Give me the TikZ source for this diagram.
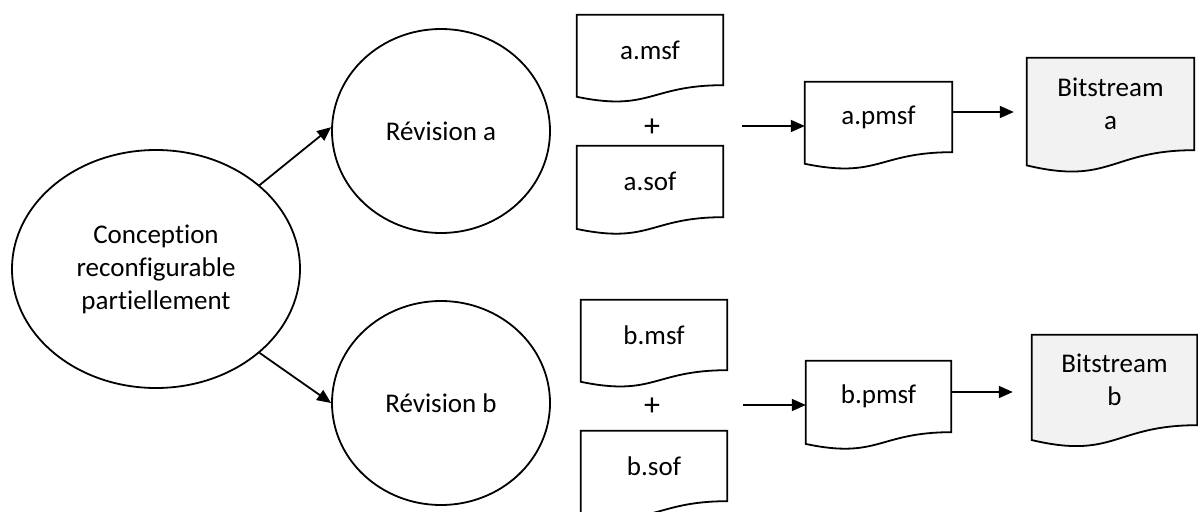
\documentclass[tikz,border=0pt]{standalone}
\usepackage{fontspec}
\setmainfont{Carlito}[Ligatures=NoCommon]
\usetikzlibrary{shapes.geometric,arrows.meta,calc,backgrounds}
\definecolor{bsfill}{HTML}{F2F2F2}
\tikzset{
  lw/.style={line width=1.8pt, draw=black},
  arr/.style={line width=1.8pt, -{Triangle[length=14pt,width=12pt]}},
  txt/.style={font=\fontsize{27}{33}\selectfont, align=center},
  oval/.style={ellipse, lw, txt, inner sep=0pt},
  docbox/.style={rectangle, draw=none, txt, inner sep=0pt},
}
\newcommand\docoutline[2]{%
  \path[lw, fill=#2] let \p1=(#1.north west), \p2=(#1.south east) in
    (\x1,\y1) -- (\x2,\y1) -- (\x2,\y2)
    .. controls ({(\x1+\x2)/2},\y2) and ({(\x1+\x2)/2},{\y1+1.381*(\y2-\y1)}) ..
    (\x1,{\y1+1.1646*(\y2-\y1)}) -- cycle;
}
\begin{document}
\begin{tikzpicture}[x=1pt,y=-1pt]
\useasboundingbox (0,0) rectangle (1198,511);
\node[oval, minimum width=288pt, minimum height=238pt] (conc) at (156,269) {Conception\\reconfigurable\\partiellement};
\node[oval, minimum width=218pt, minimum height=204pt] (reva) at (441,131) {Révision a};
\node[oval, minimum width=218pt, minimum height=204pt] (revb) at (441,403) {Révision b};

\node[docbox, minimum width=146pt, minimum height=70pt] (amsf) at (650,50) {a.msf};
\node[docbox, minimum width=146pt, minimum height=71pt] (asof) at (650,181.5) {a.sof};
\node[txt, font=\fontsize{32}{33}\selectfont] (plusa) at (652,128) {+};
\node[docbox, minimum width=146pt, minimum height=70pt] (bmsf) at (654,335) {b.msf};
\node[docbox, minimum width=146pt, minimum height=70pt] (bsof) at (654,466) {b.sof};
\node[txt, font=\fontsize{32}{33}\selectfont] (plusb) at (652,407) {+};

\node[docbox, minimum width=147pt, minimum height=70pt] (apmsf) at (878.5,117) {a.pmsf};
\node[docbox, minimum width=145pt, minimum height=71pt] (bpmsf) at (878.5,396.5) {b.pmsf};
\node[docbox, minimum width=167pt, minimum height=92pt] (bsa) at (1110.5,104) {Bitstream\\a};
\node[docbox, minimum width=165pt, minimum height=90pt] (bsb) at (1114.5,380) {Bitstream\\b};

\begin{scope}[on background layer]
\docoutline{amsf}{white}
\docoutline{asof}{white}
\docoutline{bmsf}{white}
\docoutline{bsof}{white}
\docoutline{apmsf}{white}
\docoutline{bpmsf}{white}
\docoutline{bsa}{bsfill}
\docoutline{bsb}{bsfill}
\end{scope}

\draw[arr] (conc.39.5) -- (reva.178);
\draw[arr] (conc.-39.8) -- (revb.180);
\coordinate (pa) at (742,126);
\draw[arr] (pa) -- (pa -| apmsf.west);
\draw[arr, shorten >=13pt] ([yshift=5pt]apmsf.east) -- ([yshift=5pt]apmsf.east -| bsa.west);
\coordinate (pb) at (743,405);
\draw[arr] (pb) -- (pb -| bpmsf.west);
\draw[arr, shorten >=19pt] ([yshift=4.5pt]bpmsf.east) -- ([yshift=4.5pt]bpmsf.east -| bsb.west);
\end{tikzpicture}
\end{document}
